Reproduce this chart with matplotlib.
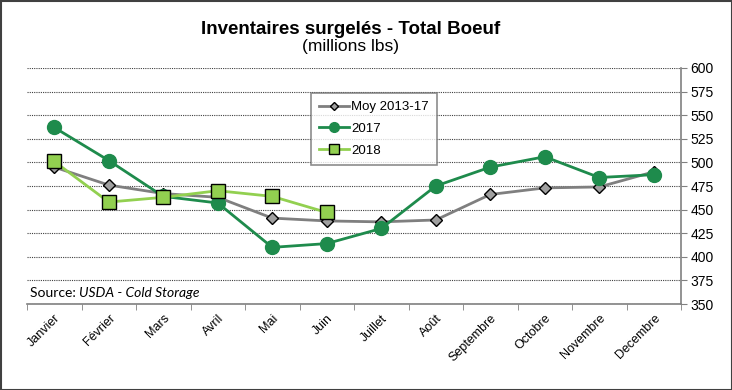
import matplotlib
matplotlib.use("Agg")
import matplotlib.pyplot as plt
from matplotlib.patches import Rectangle
import numpy as np

months = ["Janvier", "Février", "Mars", "Avril", "Mai", "Juin", "Juillet",
          "Août", "Septembre", "Octobre", "Novembre", "Decembre"]
moy_2013_17 = [495, 476, 467, 463, 441, 438, 437, 439, 466, 473, 474, 490]
y2017 = [537, 502, 464, 457, 410, 414, 430, 475, 495, 506, 484, 487]
y2018 = [501, 458, 463, 470, 464, 447]
yticks = list(range(350, 601, 25))

plt.rcParams['font.family'] = ['Liberation Sans', 'DejaVu Sans']

fig = plt.figure(figsize=(7.32, 3.90), dpi=100)
ax = fig.add_axes([27/732, 1-304/390, (681-27)/732, (304-68)/390])

x = np.arange(len(months))
ax.plot(x, moy_2013_17, color="#7f7f7f", lw=2, marker="D", ms=6.5,
        mfc="#a0a0a0", mec="black", mew=1, label="Moy 2013-17", zorder=3)
ax.plot(x, y2017, color="#1e8b4c", lw=2, marker="o", ms=10,
        mfc="#1e8b4c", mec="#1e8b4c", label="2017", zorder=4)
ax.plot(x[:len(y2018)], y2018, color="#92d050", lw=2, marker="s", ms=10,
        mfc="#92d050", mec="black", mew=1, label="2018", zorder=5)

ax.set_xlim(-0.5, 11.5)
ax.set_ylim(350, 600)
ax.set_yticks(yticks)
ax.yaxis.tick_right()
ax.tick_params(axis="y", direction="out", length=4, color="#808080",
               labelsize=10, pad=3)
for v in yticks:
    ax.axhline(v, color="#404040", lw=0.8, ls=(0, (1, 1)), zorder=1)

ax.set_xticks(x)
ax.set_xticklabels(months, rotation=45, ha="right", rotation_mode="anchor",
                   fontsize=9)
ax.tick_params(axis="x", length=0, pad=6)
ax.set_xticks(np.arange(-0.5, 12, 1), minor=True)
ax.tick_params(axis="x", which="minor", length=4, color="#808080", direction="out")

for s in ["top", "left"]:
    ax.spines[s].set_visible(False)
ax.spines["right"].set_color("#808080")
ax.spines["bottom"].set_color("#808080")
ax.spines["right"].set_linewidth(1.2)
ax.spines["bottom"].set_linewidth(1.2)

leg = ax.legend(loc="upper left", bbox_to_anchor=((311-27)/654, (304-93)/236),
                borderaxespad=0, frameon=True, fancybox=False, fontsize=9.5,
                handlelength=2.3, borderpad=0.6, labelspacing=0.72,
                handletextpad=0.15, markerscale=0.7)
leg.get_frame().set_edgecolor("#707070")
leg.get_frame().set_linewidth(1.2)

fig.text(351/732, 1-29/390, "Inventaires surgelés - Total Boeuf", ha="center",
         va="center", fontsize=13.5, fontweight="bold")
fig.text(351/732, 1-46/390, "(millions lbs)", ha="center", va="center",
         fontsize=12.5)

src_font = ['Lato', 'DejaVu Sans']
t1 = ax.text(0.004, 0.02, "Source: ", transform=ax.transAxes, fontsize=10,
             ha="left", va="bottom", family=src_font)
fig.canvas.draw()
bb = t1.get_window_extent()
inv = ax.transAxes.inverted()
x1 = inv.transform((bb.x1, bb.y0))[0]
ax.text(x1, 0.02, "USDA - Cold Storage", transform=ax.transAxes,
        fontsize=10, style="italic", ha="left", va="bottom", family=src_font)

fig.patches.append(Rectangle((0.5/732, 0.5/390), 1-1/732, 1-1/390,
                             transform=fig.transFigure, fill=False,
                             edgecolor="#404040", lw=1.5))

fig.savefig("out.png", dpi=100)
